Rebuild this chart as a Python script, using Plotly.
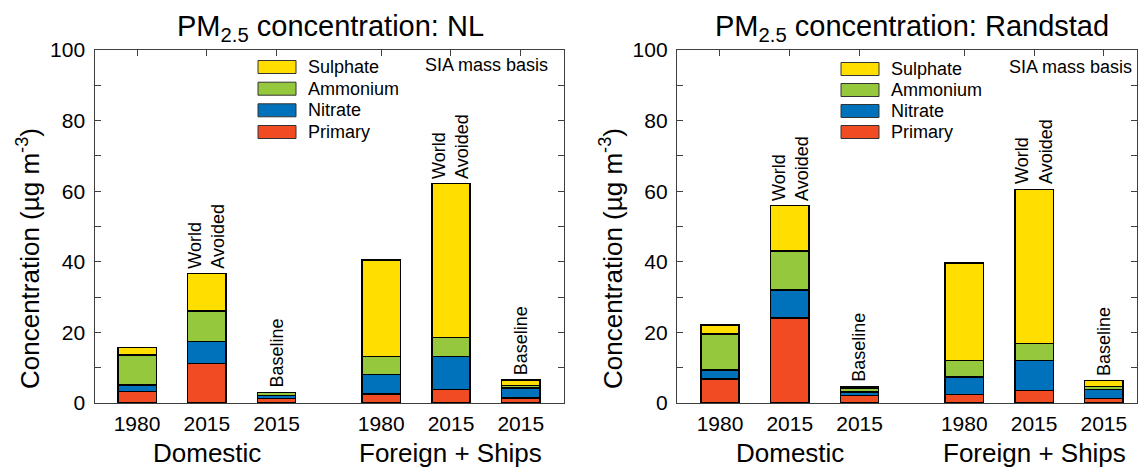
import plotly.graph_objects as go

# ---------------- data ----------------
positions = [1, 2, 3, 4.5, 5.5, 6.5]
year_labels = ["1980", "2015", "2015", "1980", "2015", "2015"]
group_labels = ["Domestic", "Foreign + Ships"]
group_centers = [2, 5.5]
species = ["Primary", "Nitrate", "Ammonium", "Sulphate"]
colors = {"Primary": "#F04B23", "Nitrate": "#0072BC", "Ammonium": "#96C83E", "Sulphate": "#FFDE00"}

nl_primary = [3.2, 11.2, 1.2, 2.5, 3.9, 1.4]
nl_nitrate = [1.9, 6.2, 0.9, 5.6, 9.2, 2.8]
nl_ammonium = [8.5, 8.7, 0.8, 5.0, 5.5, 0.7]
nl_sulphate = [2.1, 10.6, 0.1, 27.4, 43.6, 1.6]

rs_primary = [6.8, 24.1, 2.1, 2.4, 3.5, 1.2]
rs_nitrate = [2.5, 7.9, 1.0, 5.0, 8.5, 2.7]
rs_ammonium = [10.2, 11.1, 1.2, 4.7, 4.9, 0.7]
rs_sulphate = [2.6, 12.8, 0.3, 27.6, 43.6, 1.7]

bar_notes = ["", "World<br>Avoided", "Baseline", "", "World<br>Avoided", "Baseline"]

titles = ["PM<sub>2.5</sub> concentration: NL", "PM<sub>2.5</sub> concentration: Randstad"]
ytitle = "Concentration (µg m<sup>-3</sup>)"
note_text = "SIA mass basis"
legend_order = ["Sulphate", "Ammonium", "Nitrate", "Primary"]

# ---------------- layout helpers ----------------
W, H = 1138, 469
FONT = "Liberation Sans, Arial, Helvetica, sans-serif"


def px(x):
    return x / W


def py(y):
    return 1 - y / H


panels = [
    dict(xa="x", ya="y", x0=94.5, x1=564, rng=[0.39, 7.12],
         data=dict(Primary=nl_primary, Nitrate=nl_nitrate, Ammonium=nl_ammonium, Sulphate=nl_sulphate),
         title_x=330, ytitle_x=28, leg_x=258, leg_rows=[67, 88.7, 110.3, 132], sia_x=423, sia_y=65),
    dict(xa="x2", ya="y2", x0=677, x1=1137, rng=[0.384, 6.975],
         data=dict(Primary=rs_primary, Nitrate=rs_nitrate, Ammonium=rs_ammonium, Sulphate=rs_sulphate),
         title_x=912, ytitle_x=611, leg_x=841, leg_rows=[69, 90, 111, 132], sia_x=1007, sia_y=67),
]

fig = go.Figure()
annotations = []
shapes = []
AX_COL = "#404040"

for i, p in enumerate(panels):
    for sp in species:
        fig.add_trace(go.Bar(
            x=positions, y=p["data"][sp], name=sp, width=0.55,
            marker=dict(color=colors[sp], line=dict(color="black", width=1.4)),
            xaxis=p["xa"], yaxis=p["ya"], showlegend=False,
        ))
    totals = [sum(v) for v in zip(*[p["data"][s] for s in species])]
    sfx = "" if i == 0 else "2"
    fig.update_layout(**{
        "xaxis" + sfx: dict(
            domain=[px(p["x0"]), px(p["x1"])], range=p["rng"], anchor="y" + sfx,
            tickvals=positions, ticktext=year_labels, ticks="inside", ticklen=6,
            tickcolor=AX_COL, tickwidth=1, showline=True, linecolor=AX_COL, linewidth=1.3,
            mirror="ticks", showgrid=False, zeroline=False, layer="below traces",
            automargin=False,
            tickfont=dict(size=21, color="black", family=FONT), ticklabelstandoff=2,
        ),
        "yaxis" + sfx: dict(
            domain=[py(403), py(50)], range=[0, 100], anchor="x" + sfx,
            tick0=0, dtick=20, ticks="inside", ticklen=6, tickcolor=AX_COL, tickwidth=1,
            minor=dict(dtick=10, ticks="inside", ticklen=6, tickcolor=AX_COL, tickwidth=1),
            showline=True, linecolor=AX_COL, linewidth=1.3, mirror="ticks",
            showgrid=False, zeroline=False, automargin=False,
            tickfont=dict(size=21, color="black", family=FONT), ticklabelstandoff=4,
        ),
    })
    # title
    annotations.append(dict(text=titles[i], x=px(p["title_x"]), y=py(28), xref="paper", yref="paper",
                            xanchor="center", yanchor="middle", showarrow=False,
                            font=dict(size=29, color="black", family=FONT)))
    # y title
    annotations.append(dict(text=ytitle, x=px(p["ytitle_x"]), y=py(259), xref="paper", yref="paper",
                            xanchor="center", yanchor="middle", showarrow=False, textangle=-90,
                            font=dict(size=26, color="black", family=FONT)))
    # group labels
    for gl, gc in zip(group_labels, group_centers):
        annotations.append(dict(text=gl, x=gc, y=py(453), xref=p["xa"], yref="paper",
                                xanchor="center", yanchor="middle", showarrow=False,
                                font=dict(size=26, color="black", family=FONT)))
    # SIA note
    annotations.append(dict(text=note_text, x=px(p["sia_x"]), y=py(p["sia_y"]), xref="paper", yref="paper",
                            xanchor="left", yanchor="middle", showarrow=False,
                            font=dict(size=18, color="black", family=FONT)))
    # bar notes
    for pos, tot, note in zip(positions, totals, bar_notes):
        if note:
            annotations.append(dict(text=note, x=pos, y=tot, xref=p["xa"], yref=p["ya"],
                                    xanchor="center", yanchor="bottom", yshift=3, showarrow=False,
                                    textangle=-90, align="left",
                                    font=dict(size=18, color="black", family=FONT)))
    # legend
    for sp, ry in zip(legend_order, p["leg_rows"]):
        shapes.append(dict(type="rect", xref="paper", yref="paper",
                           x0=px(p["leg_x"]), x1=px(p["leg_x"] + 38), y0=py(ry + 6.5), y1=py(ry - 6.5),
                           fillcolor=colors[sp], line=dict(color="#333333", width=1)))
        annotations.append(dict(text=sp, x=px(p["leg_x"] + 48), y=py(ry), xref="paper", yref="paper",
                                xanchor="left", yanchor="middle", showarrow=False,
                                font=dict(size=18, color="black", family=FONT)))

fig.update_layout(
    width=W, height=H, autosize=False, barmode="stack",
    margin=dict(l=0, r=0, t=0, b=0, autoexpand=False),
    plot_bgcolor="white", paper_bgcolor="white",
    annotations=annotations, shapes=shapes,
    font=dict(family=FONT, color="black"),
)

fig.write_html("out.html")
